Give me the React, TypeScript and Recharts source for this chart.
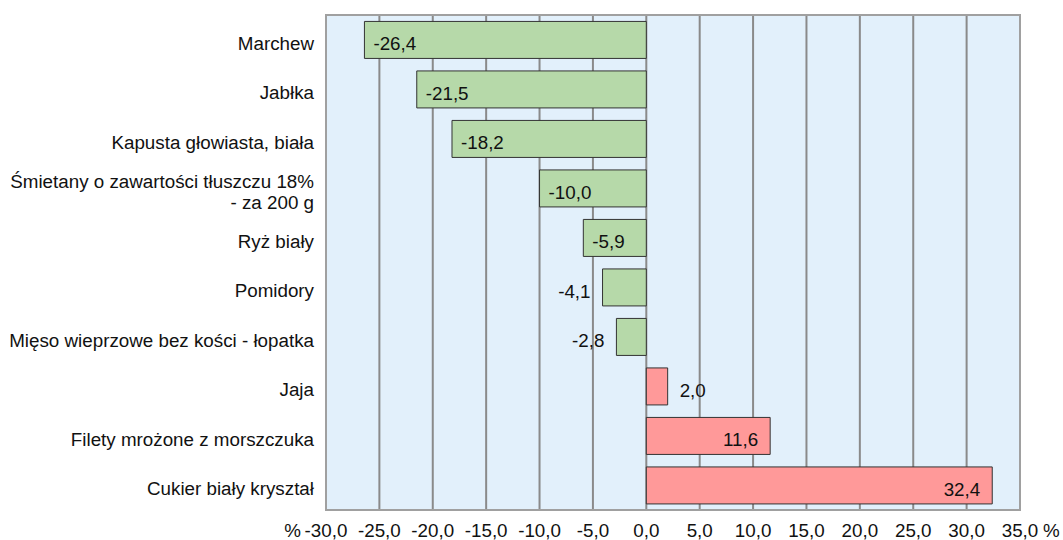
import React from 'react';
import { BarChart, Bar, XAxis, YAxis, CartesianGrid, Cell, LabelList, ReferenceArea } from 'recharts';

const categories: string[] = [
  'Marchew',
  'Jabłka',
  'Kapusta głowiasta, biała',
  'Śmietany o zawartości tłuszczu 18%\n- za 200 g',
  'Ryż biały',
  'Pomidory',
  'Mięso wieprzowe bez kości - łopatka',
  'Jaja',
  'Filety mrożone z morszczuka',
  'Cukier biały kryształ',
];

const values: number[] = [-26.4, -21.5, -18.2, -10.0, -5.9, -4.1, -2.8, 2.0, 11.6, 32.4];

const xTicks: number[] = [-30, -25, -20, -15, -10, -5, 0, 5, 10, 15, 20, 25, 30, 35];

const data = categories.map((name, i) => ({ name, value: values[i] }));

const FONT = '"Liberation Sans", Arial, sans-serif';
const FS = 18.8;
const TEXT = '#111';
const fmt = (v: number) => v.toFixed(1).replace('.', ',');

const XTick = (props: any) => {
  const { x, y, payload } = props;
  const v = payload.value as number;
  const by = y + 27;
  return (
    <g>
      <text x={x} y={by} textAnchor="middle" fontFamily={FONT} fontSize={FS} fill={TEXT}>{fmt(v)}</text>
      {v === xTicks[0] && (
        <text x={x - 25} y={by} textAnchor="end" fontFamily={FONT} fontSize={FS} fill={TEXT}>%</text>
      )}
      {v === xTicks[xTicks.length - 1] && (
        <text x={x + 23} y={by} textAnchor="start" fontFamily={FONT} fontSize={FS} fill={TEXT}>%</text>
      )}
    </g>
  );
};

const YTick = (props: any) => {
  const { x, y, payload } = props;
  const lines = String(payload.value).split('\n');
  if (lines.length === 1) {
    return (
      <text x={x} y={y + 10} textAnchor="end" fontFamily={FONT} fontSize={FS} fill={TEXT}>{lines[0]}</text>
    );
  }
  return (
    <text x={x} y={y} textAnchor="end" fontFamily={FONT} fontSize={FS} fill={TEXT}>
      {lines.map((l, i) => (
        <tspan key={i} x={x} y={y + i * 21}>{l}</tspan>
      ))}
    </text>
  );
};

const TopTick = () => <g />;

const renderLabel = (props: any) => {
  const { x, y, width, height, value } = props;
  const left = Math.min(x, x + width);
  const right = Math.max(x, x + width);
  const w = right - left;
  const cy = y + height / 2 + 10.5;
  let tx: number;
  let anchor: 'start' | 'end';
  if (value < 0) {
    if (w > 50) { tx = left + 9; anchor = 'start'; } else { tx = left - 12; anchor = 'end'; }
  } else {
    if (w > 50) { tx = right - 12; anchor = 'end'; } else { tx = right + 12; anchor = 'start'; }
  }
  return (
    <text x={tx} y={cy} textAnchor={anchor} fontFamily={FONT} fontSize={FS} fill={TEXT}>{fmt(value)}</text>
  );
};

export default function App() {
  return (
    <div style={{ position: 'absolute', left: 0, top: 0, background: '#fff' }}>
      <BarChart
        width={1063}
        height={540}
        data={data}
        layout="vertical"
        margin={{ top: 15, right: 43, bottom: 0, left: 0 }}
        barCategoryGap="13%"
      >
        <CartesianGrid horizontal={false} vertical stroke="#8a8a8a" strokeWidth={2} fill="#e2f0fb" />
        <XAxis
          type="number"
          dataKey="value"
          domain={[-30, 35]}
          ticks={xTicks}
          interval={0}
          axisLine={false}
          tickLine={false}
          tickSize={0}
          tickMargin={0}
          height={30}
          tick={<XTick />}
        />
        <XAxis
          xAxisId="top"
          orientation="top"
          type="number"
          domain={[-30, 35]}
          ticks={xTicks}
          interval={0}
          axisLine={false}
          tickLine={{ stroke: '#8a8a8a', strokeWidth: 2 }}
          tickSize={5}
          height={0}
          tick={<TopTick />}
        />
        <YAxis
          type="category"
          dataKey="name"
          width={326}
          axisLine={false}
          tickLine={false}
          tickSize={0}
          tickMargin={12}
          interval={0}
          tick={<YTick />}
        />
        <ReferenceArea x1={-30} x2={35} fill="none" stroke="#a0a0a0" strokeWidth={2} ifOverflow="visible" />
        <Bar dataKey="value" stroke="#333" strokeWidth={1} isAnimationActive={false}>
          {data.map((d, i) => (
            <Cell key={i} fill={d.value < 0 ? '#b6d9a9' : '#ff9999'} />
          ))}
          <LabelList dataKey="value" content={renderLabel} />
        </Bar>
      </BarChart>
    </div>
  );
}
